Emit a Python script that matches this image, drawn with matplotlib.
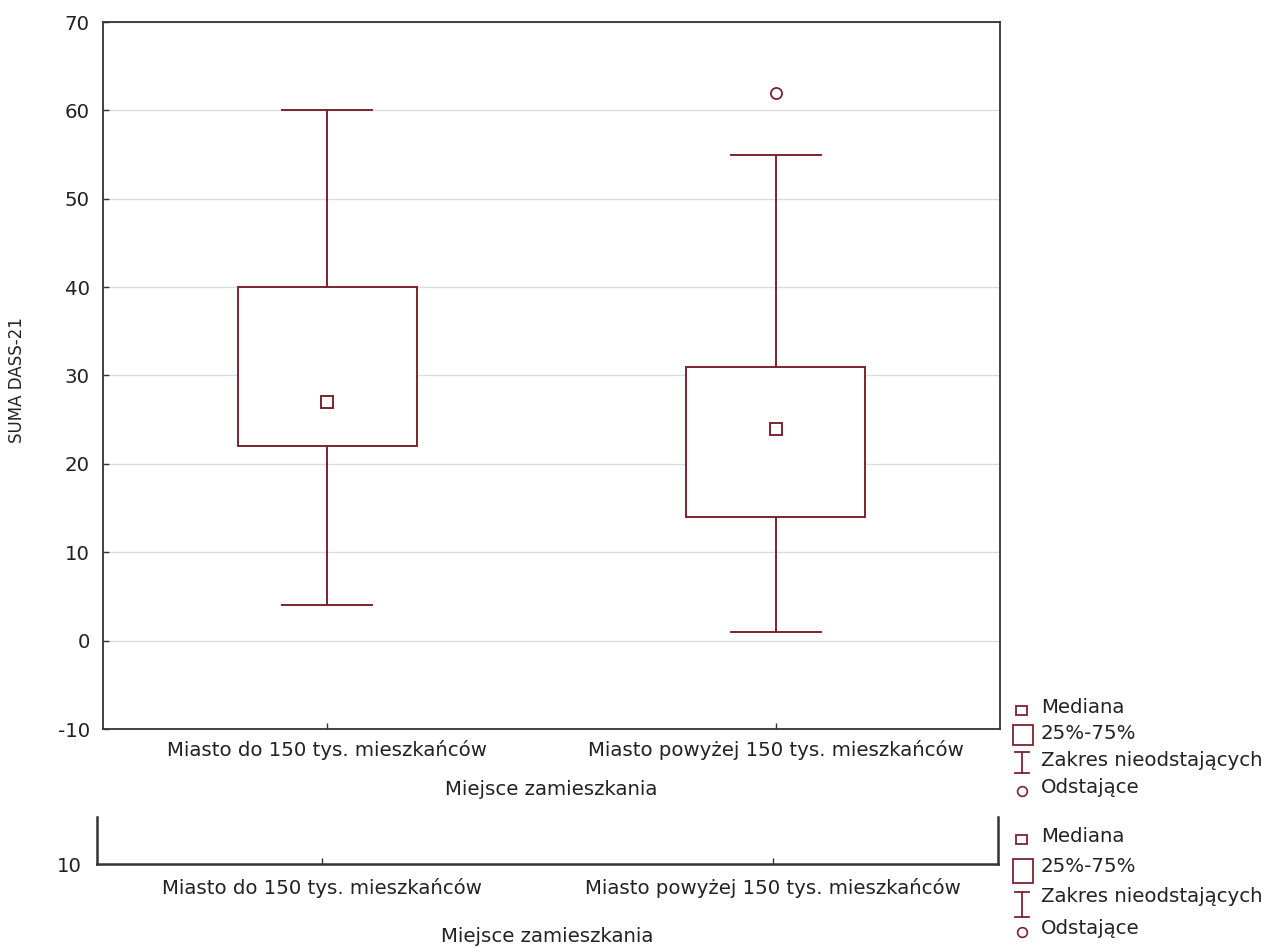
import numpy as np
import matplotlib.pyplot as plt
from matplotlib.patches import Rectangle

kategorie = ["Miasto do 150 tys. mieszkańców", "Miasto powyżej 150 tys. mieszkańców"]
mediany = [27, 24]
q1 = [22, 14]
q3 = [40, 31]
wasy_dol = [4, 1]
wasy_gora = [60, 55]
odstajace = [[], [62]]

legenda = ["Mediana", "25%-75%", "Zakres nieodstających", "Odstające"]

kolor = "#7d2231"
kolor_tekstu = "#222222"
plt.rcParams["font.family"] = "DejaVu Sans"
plt.rcParams["font.size"] = 14.2
plt.rcParams["axes.unicode_minus"] = False
plt.rcParams["text.color"] = kolor_tekstu
plt.rcParams["axes.labelcolor"] = kolor_tekstu
plt.rcParams["xtick.color"] = "#333333"
plt.rcParams["ytick.color"] = "#333333"
plt.rcParams["xtick.labelcolor"] = kolor_tekstu
plt.rcParams["ytick.labelcolor"] = kolor_tekstu

fig = plt.figure(figsize=(12.67, 9.47), dpi=100)

# główny wykres
ax = fig.add_axes([103 / 1267, 1 - 729 / 947, 897 / 1267, 707 / 947])
pozycje = [1, 2]
staty = []
for i in range(2):
    staty.append({"med": mediany[i], "q1": q1[i], "q3": q3[i],
                  "whislo": wasy_dol[i], "whishi": wasy_gora[i],
                  "fliers": odstajace[i], "label": kategorie[i]})

linia = dict(color=kolor, linewidth=1.4)
ax.bxp(staty, positions=pozycje, widths=0.4, capwidths=0.2, patch_artist=True,
       boxprops=dict(facecolor="white", edgecolor=kolor, linewidth=1.4),
       whiskerprops=linia, capprops=linia,
       medianprops=dict(linewidth=0),
       flierprops=dict(marker="o", markerfacecolor="none", markeredgecolor=kolor,
                       markersize=8, markeredgewidth=1.3),
       zorder=3)
ax.plot(pozycje, mediany, linestyle="none", marker="s", markersize=8.5,
        markerfacecolor="white", markeredgecolor=kolor, markeredgewidth=1.4, zorder=4)

ax.set_xlim(0.5, 2.5)
ax.set_ylim(-10, 70)
ax.set_yticks(np.arange(-10, 71, 10))
ax.grid(axis="y", color="#dcdcdc", linewidth=1.0, zorder=0)
ax.set_axisbelow(True)
ax.tick_params(axis="both", direction="in", length=4, width=1.0)
ax.tick_params(axis="y", pad=9.5)
ax.tick_params(axis="x", pad=8)
for s in ax.spines.values():
    s.set_linewidth(1.3)
    s.set_color("#333333")
ax.set_xlabel("Miejsce zamieszkania", labelpad=14)
ax.set_ylabel("SUMA DASS-21", fontsize=12)
ax.yaxis.set_label_coords(-0.086, 0.493)

# powielony dolny fragment osi
ax2 = fig.add_axes([97 / 1267, 1 - 864 / 947, 901 / 1267, 47 / 947])
ax2.set_xlim(0.5, 2.5)
ax2.set_ylim(10, 15)
ax2.set_yticks([10])
ax2.set_xticks(pozycje)
ax2.set_xticklabels(kategorie)
ax2.spines["top"].set_visible(False)
for s in ["left", "right", "bottom"]:
    ax2.spines[s].set_linewidth(1.8)
    ax2.spines[s].set_color("#333333")
ax2.tick_params(axis="both", direction="in", length=4, width=1.0)
ax2.tick_params(axis="y", pad=11, length=0)
ax2.tick_params(axis="x", pad=10)
ax2.set_xlabel("Miejsce zamieszkania", labelpad=21)

# legendy po prawej stronie
lg = fig.add_axes([0, 0, 1, 1])
lg.set_xlim(0, 1267)
lg.set_ylim(947, 0)
lg.axis("off")


def rysuj_legende(y_teksty, y_mediana, y_pudlo, y_was, y_kolo):
    lg.add_patch(Rectangle((1016, y_mediana - 4.5), 11, 9, facecolor="white",
                           edgecolor=kolor, linewidth=1.3))
    lg.add_patch(Rectangle((1013, y_pudlo[0]), 20, y_pudlo[1] - y_pudlo[0],
                           facecolor="white", edgecolor=kolor, linewidth=1.3))
    lg.plot([1022, 1022], y_was, color=kolor, linewidth=1.3)
    lg.plot([1015, 1029], [y_was[0], y_was[0]], color=kolor, linewidth=1.3)
    lg.plot([1015, 1029], [y_was[1], y_was[1]], color=kolor, linewidth=1.3)
    lg.plot([1022], [y_kolo], marker="o", markersize=7, markerfacecolor="none",
            markeredgecolor=kolor, markeredgewidth=1.2)
    for t, y in zip(legenda, y_teksty):
        lg.text(1041, y, t, va="center", ha="left")


rysuj_legende([707, 733, 760, 787], 710, (725, 745), (752, 773), 791)
rysuj_legende([836, 866, 896, 928], 839, (859, 883), (892, 917), 932)

fig.savefig("out.png", dpi=100)
